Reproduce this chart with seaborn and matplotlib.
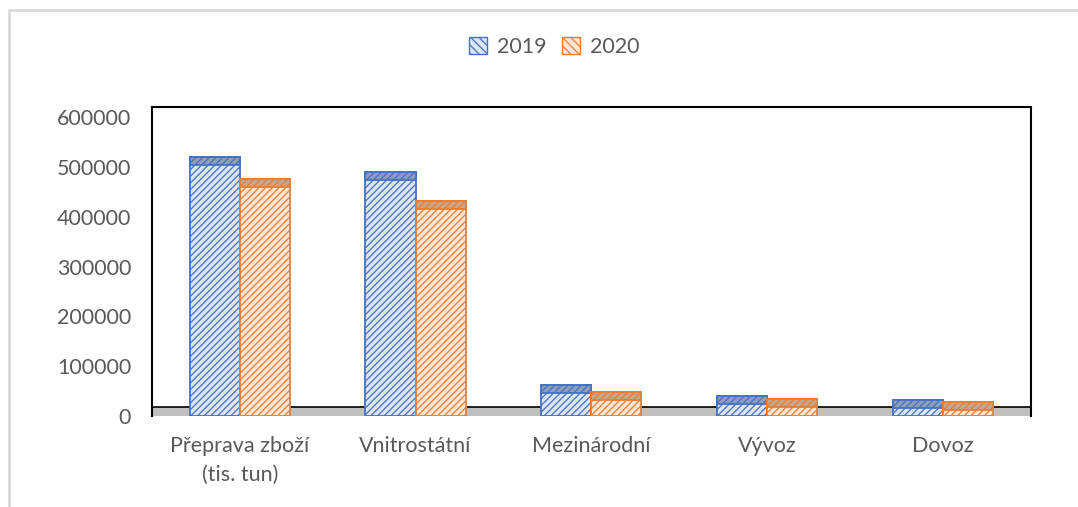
import matplotlib
matplotlib.use("Agg")
import matplotlib.pyplot as plt
from matplotlib.patches import Patch, Rectangle
from matplotlib.lines import Line2D
import seaborn as sns
import pandas as pd

categories = ["Přeprava zboží\n(tis. tun)", "Vnitrostátní", "Mezinárodní", "Vývoz", "Dovoz"]
years = ["2019", "2020"]
values_2019 = [520000, 490000, 63000, 40000, 32000]
values_2020 = [476000, 432000, 48000, 34000, 28000]

edge_colors = {"2019": "#4472C4", "2020": "#ED7D31"}
face_colors = {"2019": "#DCE5F5", "2020": "#FCE6D6"}
cap_colors = {"2019": "#8E9DB8", "2020": "#C8A68C"}

df = pd.DataFrame({
    "Kategorie": categories * 2,
    "Rok": [years[0]] * len(categories) + [years[1]] * len(categories),
    "Hodnota": values_2019 + values_2020,
})

sns.set_theme(style="white")
plt.rcParams["font.family"] = ["Lato", "DejaVu Sans"]
plt.rcParams["hatch.linewidth"] = 0.9

fig = plt.figure(figsize=(10.78, 5.07), dpi=100)
ax = fig.add_axes([0.141, 0.179, 0.815, 0.610])

sns.barplot(data=df, x="Kategorie", y="Hodnota", hue="Rok",
            palette=edge_colors, width=0.57, saturation=1, ax=ax,
            legend=False, zorder=2)
bars = list(ax.patches)

# grey 3D floor
floor = 18000
ax.axhspan(0, floor, color="#BFBFBF", zorder=0)
ax.axhline(floor, color="black", lw=1.2, zorder=1)

n = len(categories)
cap = 16000
for i, p in enumerate(bars):
    yr = years[i // n]
    p.set_facecolor(face_colors[yr])
    p.set_edgecolor(edge_colors[yr])
    p.set_hatch("/////")
    p.set_linewidth(1.3)
    h = p.get_height()
    ax.add_patch(Rectangle((p.get_x(), h - cap), p.get_width(), cap,
                           facecolor=cap_colors[yr], edgecolor=edge_colors[yr],
                           hatch="/////", lw=1.3, zorder=3))

ax.set_xlim(-0.5, n - 0.5)
ax.set_ylim(0, 620000)
ax.set_yticks(range(0, 600001, 100000))
ax.set_xlabel("")
ax.set_ylabel("")
ax.tick_params(axis="both", labelsize=15.5, labelcolor="#595959", length=0)
ax.tick_params(axis="y", pad=15)
ax.tick_params(axis="x", pad=14)
for lbl in ax.get_xticklabels():
    lbl.set_linespacing(1.55)
for side in ["top", "right", "left"]:
    ax.spines[side].set_color("black")
    ax.spines[side].set_linewidth(1.5)
ax.spines["bottom"].set_visible(False)

handles = [Patch(facecolor=face_colors[y], edgecolor=edge_colors[y], hatch="\\\\\\\\", label=y)
           for y in years]
fig.legend(handles=handles, loc="center", bbox_to_anchor=(0.514, 0.907), ncol=2,
           frameon=False, fontsize=15.5, labelcolor="#595959", handlelength=0.85,
           handleheight=0.85, handletextpad=0.45, columnspacing=0.7)

# outer chart-area border (left and top only visible)
fig.add_artist(Line2D([0.0085, 0.0085], [0.0, 0.980], transform=fig.transFigure,
                      color="#D9D9D9", lw=2))
fig.add_artist(Line2D([0.0085, 1.0], [0.980, 0.980], transform=fig.transFigure,
                      color="#D9D9D9", lw=2))

fig.savefig("out.png", dpi=100)
